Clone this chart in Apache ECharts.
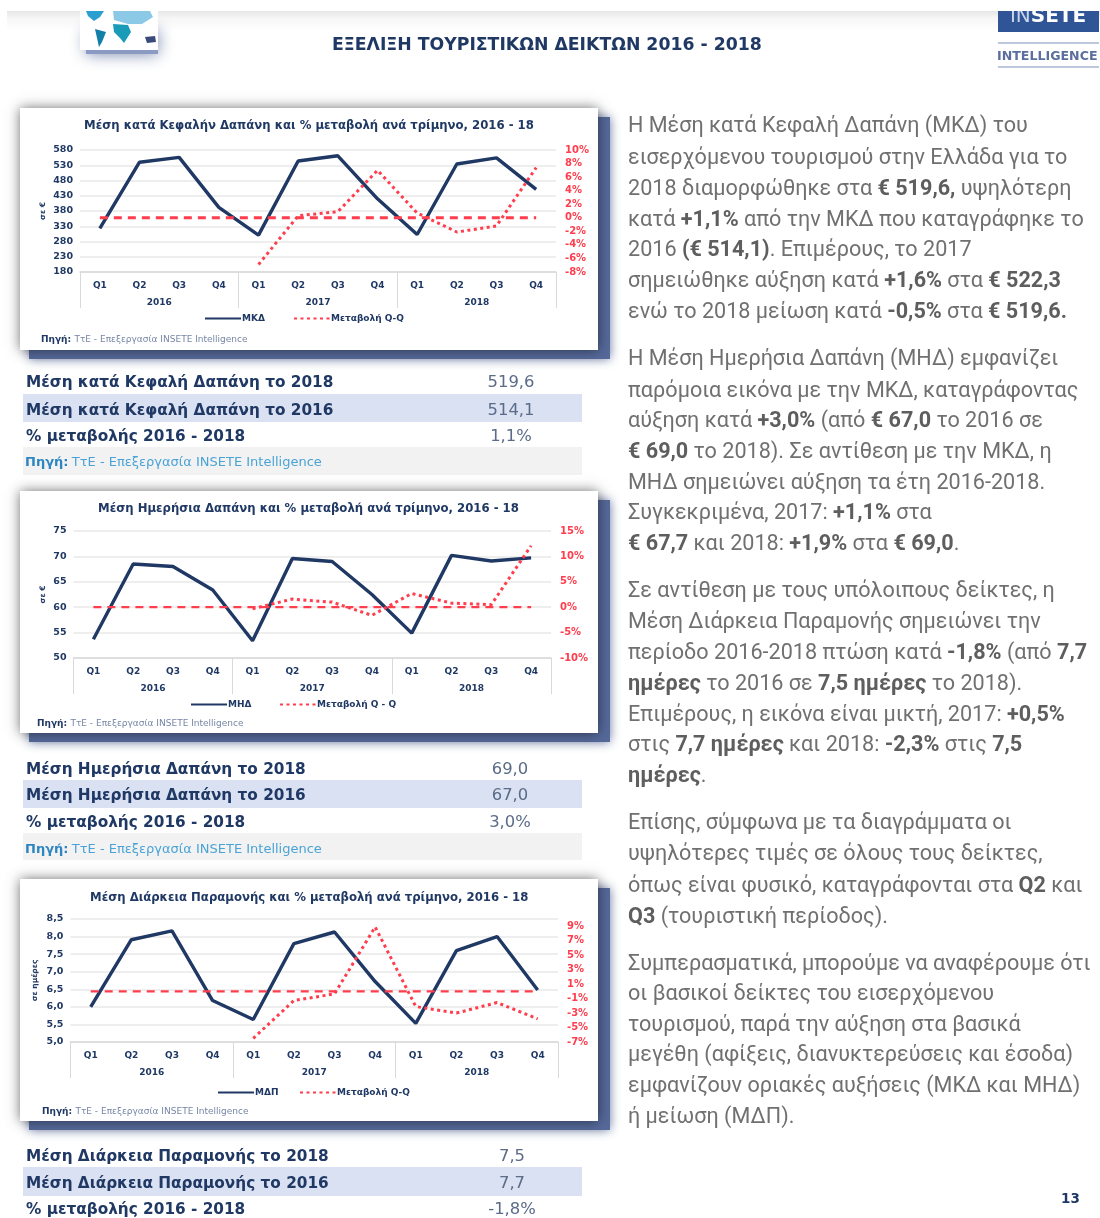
<!DOCTYPE html>
<html lang="el">
<head>
<meta charset="utf-8">
<title>Εξέλιξη Τουριστικών Δεικτών 2016 - 2018</title>
<style>html,body{margin:0;padding:0;background:#fff}#c{width:1100px;height:1218px;filter:blur(0.7px)}</style>
<script src="https://cdn.jsdelivr.net/npm/echarts@6/dist/echarts.min.js"></script>
</head>
<body>
<div id="c"></div>
<script>
// ---------- data ----------
const quarters = ['Q1','Q2','Q3','Q4','Q1','Q2','Q3','Q4','Q1','Q2','Q3','Q4'];
const years = ['2016','2017','2018'];
const zeroLine = [0,0,0,0,0,0,0,0,0,0,0,0];

const mkdValues = [323,540,556,392,301,544,561,420,303,534,554,451];
const mkdChange = [null,null,null,null,-6.9,0.3,0.9,7.0,0.7,-2.1,-1.2,7.4];
const mhdValues = [53.7,68.5,68.0,63.4,53.4,69.6,69.0,62.5,54.9,70.2,69.1,69.7];
const mhdChange = [null,null,null,null,-0.3,1.6,1.0,-1.6,2.7,0.8,0.5,12.1];
const mdpValues = [6.0,7.91,8.16,6.18,5.64,7.8,8.13,6.72,5.53,7.6,8.0,6.48];
const mdpChange = [null,null,null,null,-6.5,-1.27,-0.35,8.9,-2.1,-3.0,-1.55,-3.8];

const chartTitles = [
  'Μέση κατά Κεφαλήν Δαπάνη και % μεταβολή ανά τρίμηνο, 2016 - 18',
  'Μέση Ημερήσια Δαπάνη και % μεταβολή ανά τρίμηνο, 2016 - 18',
  'Μέση Διάρκεια Παραμονής και % μεταβολή ανά τρίμηνο, 2016 - 18'
];
const tableRows1 = [['Μέση κατά Κεφαλή Δαπάνη το 2018','519,6'],['Μέση κατά Κεφαλή Δαπάνη το 2016','514,1'],['% μεταβολής 2016 - 2018','1,1%']];
const tableRows2 = [['Μέση Ημερήσια Δαπάνη το 2018','69,0'],['Μέση Ημερήσια Δαπάνη το 2016','67,0'],['% μεταβολής 2016 - 2018','3,0%']];
const tableRows3 = [['Μέση Διάρκεια Παραμονής το 2018','7,5'],['Μέση Διάρκεια Παραμονής το 2016','7,7'],['% μεταβολής 2016 - 2018','-1,8%']];

const paragraph1 = ['Η Μέση κατά Κεφαλή Δαπάνη (ΜΚΔ) του','εισερχόμενου τουρισμού στην Ελλάδα για το','2018 διαμορφώθηκε στα **€ 519,6,** υψηλότερη','κατά **+1,1%** από την ΜΚΔ που καταγράφηκε το','2016 **(€ 514,1)**. Επιμέρους, το 2017','σημειώθηκε αύξηση κατά **+1,6%** στα **€ 522,3**','ενώ το 2018 μείωση κατά **-0,5%** στα **€ 519,6.**'];
const paragraph2 = ['Η Μέση Ημερήσια Δαπάνη (ΜΗΔ) εμφανίζει','παρόμοια εικόνα με την ΜΚΔ, καταγράφοντας','αύξηση κατά **+3,0%** (από **€ 67,0** το 2016 σε','**€ 69,0** το 2018). Σε αντίθεση με την ΜΚΔ, η','ΜΗΔ σημειώνει αύξηση τα έτη 2016-2018.','Συγκεκριμένα, 2017: **+1,1%** στα','**€ 67,7** και 2018: **+1,9%** στα **€ 69,0**.'];
const paragraph3 = ['Σε αντίθεση με τους υπόλοιπους δείκτες, η','Μέση Διάρκεια Παραμονής σημειώνει την','περίοδο 2016-2018 πτώση κατά **-1,8%** (από **7,7**','**ημέρες** το 2016 σε **7,5 ημέρες** το 2018).','Επιμέρους, η εικόνα είναι μικτή, 2017: **+0,5%**','στις **7,7 ημέρες** και 2018: **-2,3%** στις **7,5**','**ημέρες**.'];
const paragraph4 = ['Επίσης, σύμφωνα με τα διαγράμματα οι','υψηλότερες τιμές σε όλους τους δείκτες,','όπως είναι φυσικό, καταγράφονται στα **Q2** και','**Q3** (τουριστική περίοδος).'];
const paragraph5 = ['Συμπερασματικά, μπορούμε να αναφέρουμε ότι','οι βασικοί δείκτες του εισερχόμενου','τουρισμού, παρά την αύξηση στα βασικά','μεγέθη (αφίξεις, διανυκτερεύσεις και έσοδα)','εμφανίζουν οριακές αυξήσεις (ΜΚΔ και ΜΗΔ)','ή μείωση (ΜΔΠ).'];

const heading = 'ΕΞΕΛΙΞΗ ΤΟΥΡΙΣΤΙΚΩΝ ΔΕΙΚΤΩΝ 2016 - 2018';
const pageNumber = '13';
const sourceText = 'ΤτΕ - Επεξεργασία INSETE Intelligence';

// ---------- styling and layout ----------
const NAVY = '#1f3864', RED = '#ff3d4d', GRID = '#e8e8e8', BASE = '#d9d9d9';
const SANS = '"DejaVu Sans",sans-serif';

const panels = [
  {top:108,bottom:350,left:80,right:556,axisTop:150,axisBottom:272,titleX:84,titleY:126,
   sourceX:41,sourceY:340,legendA:204,legendB:293,legendY:320,
   name:'ΜΚΔ',changeName:'Μεταβολή Q-Q',axisName:'σε €',nameGap:33,zeroWidth:3,
   values:mkdValues,change:mkdChange,
   left0:{min:180,max:580,interval:50},right0:{min:-8,max:10,interval:2},leftFmt:v=>String(v),rightFmt:v=>v+'%',
   rows:tableRows1,rowY:[383,411,437],bandY:[394,422],srcBand:[447,475],srcY:463,valX:511},
  {top:491,bottom:733,left:73.5,right:551,axisTop:531,axisBottom:658,titleX:98,titleY:509,
   sourceX:37,sourceY:724,legendA:190,legendB:279,legendY:706,
   name:'ΜΗΔ',changeName:'Μεταβολή Q - Q',axisName:'σε €',nameGap:26,zeroWidth:2.2,
   values:mhdValues,change:mhdChange,
   left0:{min:50,max:75,interval:5},right0:{min:-10,max:15,interval:5},leftFmt:v=>String(v),rightFmt:v=>v+'%',
   rows:tableRows2,rowY:[770,796,823],bandY:[780,808],srcBand:[833,860],srcY:850,valX:510},
  {top:879,bottom:1121,left:70.4,right:558,axisTop:919,axisBottom:1042,titleX:90,titleY:898,
   sourceX:42,sourceY:1112,legendA:217,legendB:299,legendY:1094,
   name:'ΜΔΠ',changeName:'Μεταβολή Q-Q',axisName:'σε ημέρες',nameGap:31,zeroWidth:2.4,
   values:mdpValues,change:mdpChange,
   left0:{min:5,max:8.5,interval:0.5},right0:{min:-7,max:10,interval:1},leftFmt:v=>v.toFixed(1).replace('.',','),
   rightFmt:v=>(Math.abs(v)%2===1?v+'%':''),
   rows:tableRows3,rowY:[1157,1184,1210],bandY:[1167,1196],srcBand:null,srcY:0,valX:512}
];

const grids=[],xAxes=[],yAxes=[],seriesList=[],titles=[],legends=[],graphics=[];

function rect(x,y,w,h,fill,extra){return {type:'rect',z:-10,shape:{x,y,width:w,height:h},style:Object.assign({fill},extra||{})};}
function text(x,y,t,font,fill,opts){return {type:'text',x,y,z:5,style:Object.assign({text:t,font,fill,textVerticalAlign:'middle'},opts||{})};}
function richLine(x,y,s,size){
  const parts=s.split('**');let out='';
  parts.forEach((p,i)=>{if(p)out+='{'+(i%2?'b':'r')+'|'+p+'}';});
  const base={fontFamily:'Roboto,sans-serif',fontSize:size};
  return {type:'text',x,y,z:5,style:{text:out,textVerticalAlign:'middle',rich:{
    r:Object.assign({},base,{fontWeight:'normal',fill:'#707070'}),
    b:Object.assign({},base,{fontWeight:'bold',fill:'#5e5e5e'})}}};
}

panels.forEach((p,i)=>{
  const ix=i*2, iy=i*2;
  grids.push({left:p.left,width:p.right-p.left,top:p.axisTop,height:p.axisBottom-p.axisTop,containLabel:false});
  xAxes.push({type:'category',gridIndex:i,data:quarters,position:'bottom',
    axisLine:{onZero:false,lineStyle:{color:BASE,width:1.5}},axisTick:{show:false},
    axisLabel:{interval:0,margin:9,color:NAVY,fontFamily:SANS,fontWeight:'bold',fontSize:9},splitLine:{show:false}});
  xAxes.push({type:'category',gridIndex:i,data:years,position:'bottom',
    axisLine:{show:false,onZero:false},axisTick:{show:true,length:36,lineStyle:{color:BASE,width:1}},
    axisLabel:{interval:0,margin:26,color:NAVY,fontFamily:SANS,fontWeight:'bold',fontSize:9},splitLine:{show:false}});
  yAxes.push(Object.assign({type:'value',gridIndex:i,position:'left',name:p.axisName,nameLocation:'middle',nameRotate:90,nameGap:p.nameGap,
    nameTextStyle:{color:NAVY,fontFamily:SANS,fontWeight:'bold',fontSize:7.5},
    axisLine:{show:false},axisTick:{show:false},splitLine:{lineStyle:{color:GRID,width:1.5}},
    axisLabel:{margin:7,color:NAVY,fontFamily:SANS,fontWeight:'bold',fontSize:9.5,formatter:p.leftFmt}},p.left0));
  yAxes.push(Object.assign({type:'value',gridIndex:i,position:'right',
    axisLine:{show:false},axisTick:{show:false},splitLine:{show:false},
    axisLabel:{margin:9,color:RED,fontFamily:SANS,fontWeight:'bold',fontSize:10,formatter:p.rightFmt}},p.right0));
  seriesList.push({type:'line',name:p.name,xAxisIndex:ix,yAxisIndex:iy,data:p.values,symbol:'none',z:3,animation:false,
    lineStyle:{color:NAVY,width:3.4},itemStyle:{color:NAVY}});
  seriesList.push({type:'line',name:p.changeName,xAxisIndex:ix,yAxisIndex:iy+1,data:p.change,symbol:'none',z:4,animation:false,connectNulls:false,
    lineStyle:{color:RED,width:3,type:[3,3.5]},itemStyle:{color:RED}});
  seriesList.push({type:'line',name:'0% '+(i+1),xAxisIndex:ix,yAxisIndex:iy+1,data:zeroLine,symbol:'none',z:4,animation:false,silent:true,
    lineStyle:{color:RED,width:p.zeroWidth,type:[8,6]},itemStyle:{color:RED}});
  titles.push({text:chartTitles[i],left:p.titleX,top:p.titleY-7,padding:0,textStyle:{color:NAVY,fontFamily:SANS,fontWeight:'bold',fontSize:11.7,lineHeight:14}});
  const legendText={color:NAVY,fontFamily:SANS,fontWeight:'bold',fontSize:9,padding:[0,0,0,-4]};
  const legendCommon={itemWidth:36,itemHeight:4,padding:0,textStyle:legendText,selectedMode:false,itemStyle:{opacity:0}};
  legends.push(Object.assign({data:[p.name],left:p.legendA,top:p.legendY-6},legendCommon));
  legends.push(Object.assign({data:[p.changeName],left:p.legendB,top:p.legendY-6},legendCommon));

  // panel with its shadow
  graphics.push(rect(29,p.top+9,581,p.bottom-p.top,'#55699a',{shadowBlur:10,shadowColor:'rgba(70,90,140,0.8)'}));
  graphics.push(Object.assign(rect(20,p.top,578,p.bottom-p.top,'#ffffff',{shadowBlur:12,shadowColor:'rgba(0,0,0,0.55)'}),{z:-9}));
  graphics.push({type:'text',x:p.sourceX,y:p.sourceY,z:5,style:{text:'{b|Πηγή:} {r|'+sourceText+'}',textVerticalAlign:'middle',rich:{
    b:{fontFamily:SANS,fontWeight:'bold',fontSize:9,fill:NAVY},r:{fontFamily:SANS,fontSize:9,fill:'#7686a6'}}}});
  // table below the panel
  graphics.push(rect(23,p.bandY[0],559,p.bandY[1]-p.bandY[0],'#d9e1f2'));
  if(p.srcBand){
    graphics.push(rect(23,p.srcBand[0],559,p.srcBand[1]-p.srcBand[0],'#f2f2f2'));
    graphics.push({type:'text',x:25,y:p.srcY,z:5,style:{text:'{b|Πηγή:} {r|'+sourceText+'}',textVerticalAlign:'middle',rich:{
      b:{fontFamily:SANS,fontWeight:'bold',fontSize:13,fill:'#2e86c1'},r:{fontFamily:SANS,fontSize:13,fill:'#4aa3d6'}}}});
  }
  p.rows.forEach((r,k)=>{
    graphics.push(text(26,p.rowY[k],r[0],'bold 15.3px '+SANS,NAVY));
    graphics.push(text(p.valX,p.rowY[k],r[1],'16.4px '+SANS,'#5b6b88',{textAlign:'center'}));
  });
});

// header band, map tile, logo
graphics.push({type:'rect',z:-12,shape:{x:7,y:11,width:1093,height:20},style:{fill:{type:'linear',x:0,y:0,x2:0,y2:1,colorStops:[{offset:0,color:'#e6e6e6'},{offset:0.35,color:'#f6f6f6'},{offset:1,color:'#ffffff'}]}}});
graphics.push(rect(86,30,72,24,'#8a9ac0',{shadowBlur:16,shadowColor:'rgba(90,110,160,0.85)'}));
graphics.push(Object.assign(rect(80,11,78,39,'#ffffff'),{z:-9}));
[
  {c:'#2b9fd0',pts:[[86,11],[104,11],[100,17],[94,21],[88,16]]},
  {c:'#127fa8',pts:[[95,29],[106,32],[102,42],[99,47],[97,38]]},
  {c:'#1a9bb8',pts:[[113,24],[128,25],[131,32],[124,43],[120,38],[114,32]]},
  {c:'#8cc9e6',pts:[[113,11],[150,11],[153,17],[142,24],[128,24],[114,20]]},
  {c:'#3a4a7a',pts:[[145,37],[155,36],[156,42],[147,43]]}
].forEach(s=>graphics.push({type:'polygon',z:-8,shape:{points:s.pts},style:{fill:s.c}}));

graphics.push(rect(998,11,101,21,'#2f5597',{}));
graphics.push({type:'text',x:1048,y:17,z:5,style:{text:'{a|IN}{b|SETE}',textAlign:'center',textVerticalAlign:'middle',rich:{
  a:{fontFamily:SANS,fontSize:20,fill:'#c9d5ea'},b:{fontFamily:SANS,fontWeight:'bold',fontSize:20,fill:'#ffffff'}}}});
graphics.push({type:'rect',z:6,shape:{x:990,y:0,width:110,height:11},style:{fill:'#ffffff'}});
graphics.push({type:'line',z:1,shape:{x1:998,y1:43,x2:1099,y2:43},style:{stroke:'#a9b6d2',lineWidth:1.5}});
graphics.push({type:'line',z:1,shape:{x1:998,y1:67,x2:1099,y2:67},style:{stroke:'#a9b6d2',lineWidth:1.5}});
graphics.push(text(997,57,'INTELLIGENCE','bold 12.6px '+SANS,'#5a6f9d'));
graphics.push(text(332,46,heading,'bold 17.3px '+SANS,NAVY));
graphics.push(text(1061,1199,pageNumber,'bold 13.5px '+SANS,NAVY));

// body text, one entry per printed line
const bodyBlocks = [
  [paragraph1,[127,159,190,221,251,282,313]],
  [paragraph2,[360,392,422,453,484,514,545]],
  [paragraph3,[592,623,654,685,716,746,777]],
  [paragraph4,[824,855,887,918]],
  [paragraph5,[965,995,1026,1056,1087,1118]]
];
bodyBlocks.forEach(([lines,ys])=>lines.forEach((l,k)=>graphics.push(richLine(628,ys[k],l,21.6))));

const chart = echarts.init(document.getElementById('c'),null,{width:1100,height:1218});
chart.setOption({
  animation:false,backgroundColor:'#ffffff',
  title:titles,grid:grids,xAxis:xAxes,yAxis:yAxes,legend:legends,series:seriesList,
  graphic:{elements:graphics}
});
</script>
</body>
</html>
